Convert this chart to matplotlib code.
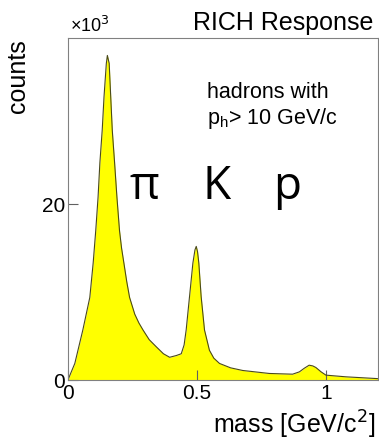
import numpy as np
import matplotlib.pyplot as plt

# Data (counts in units of 10^3) ---------------------------------------
mass = [0.0, 0.027, 0.058, 0.085, 0.098, 0.108, 0.117, 0.124, 0.133, 0.140,
        0.149, 0.153, 0.160, 0.166, 0.172, 0.181, 0.190, 0.200, 0.208, 0.217,
        0.228, 0.239, 0.259, 0.275, 0.291, 0.315, 0.342, 0.370, 0.394, 0.420,
        0.439, 0.450, 0.458, 0.471, 0.484, 0.492, 0.497, 0.502, 0.507, 0.516,
        0.529, 0.548, 0.565, 0.587, 0.630, 0.677, 0.780, 0.870, 0.896, 0.915,
        0.934, 0.948, 0.960, 0.980, 0.999, 1.076, 1.190, 1.200]
counts = [0.0, 1.9, 5.7, 9.4, 13.3, 17.0, 20.8, 24.7, 28.4, 32.2,
          36.0, 36.9, 36.0, 32.2, 28.4, 24.7, 20.8, 17.0, 15.0, 13.3,
          11.2, 9.4, 7.5, 6.5, 5.7, 4.6, 3.8, 3.0, 2.6, 2.8,
          3.0, 4.0, 5.7, 9.5, 13.3, 14.8, 15.2, 14.6, 13.3, 9.5,
          5.7, 3.4, 2.5, 1.9, 1.4, 1.1, 0.76, 0.68, 0.94, 1.35,
          1.7, 1.62, 1.44, 0.95, 0.57, 0.38, 0.19, 0.17]
x_ticks = [0, 0.5, 1]
x_ticklabels = ['0', '0.5', '1']
y_ticks = [0, 20]
y_ticklabels = ['0', '20']
particles = ['π', 'K', 'p']
particle_x = [0.248, 0.48, 0.706]

plt.rcParams['font.family'] = ['Liberation Sans', 'DejaVu Sans']

fig = plt.figure(figsize=(3.79, 4.40), dpi=100)
ax = fig.add_axes([0.179, 0.136, 0.818, 0.778])

ax.fill_between(mass, counts, 0, color='#ffff00', linewidth=0)
ax.plot(mass, counts, color='#4a4a1a', linewidth=0.8)

ax.set_xlim(0, 1.2)
ax.set_ylim(0, 38.9)
ax.set_xticks(x_ticks)
ax.set_xticklabels(x_ticklabels)
ax.set_yticks(y_ticks)
ax.set_yticklabels(y_ticklabels)
ax.tick_params(direction='in', length=7, width=0.8, color='#606060',
               labelsize=15, pad=2)
ax.tick_params(axis='x', pad=3)
for s in ax.spines.values():
    s.set_color('#808080')
    s.set_linewidth(0.8)

# Labels ---------------------------------------------------------------
fig.text(0.985, 0.948, 'RICH Response', ha='right', va='center', fontsize=18)
fig.text(0.185, 0.942, r'×10$^3$', ha='left', va='center', fontsize=13)
fig.text(0.048, 0.826, 'counts', rotation=90, ha='center', va='center', fontsize=18)
fig.text(0.99, 0.034, r'mass [GeV/c$^2$]', ha='right', va='center', fontsize=18)

ax.text(0.45, 0.84, 'hadrons with', transform=ax.transAxes, fontsize=15.5,
        ha='left', va='center')
ax.text(0.45, 0.765, r'p$_\mathregular{h}$> 10 GeV/c', transform=ax.transAxes,
        fontsize=15.5, ha='left', va='center')

for name, xp in zip(particles, particle_x):
    ax.text(xp, 0.565, name, transform=ax.transAxes, fontsize=33,
            ha='center', va='center', family=['Open Sans', 'DejaVu Sans'])

fig.savefig('out.png', dpi=100)
